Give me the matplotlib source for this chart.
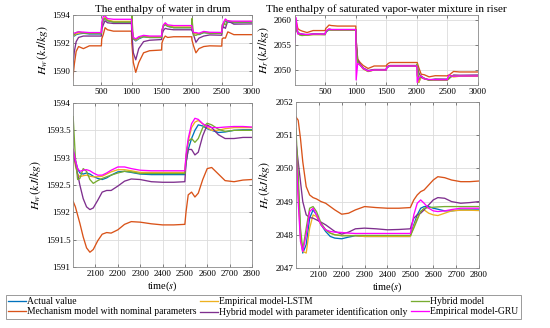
import matplotlib
matplotlib.use("Agg")
import matplotlib.pyplot as plt
import numpy as np

plt.rcParams['font.family'] = ['Liberation Serif', 'DejaVu Serif']
plt.rcParams['mathtext.fontset'] = 'stix'

names = ["Actual value", "Mechanism model with nominal parameters",
         "Empirical model-LSTM", "Hybrid model with parameter identification only",
         "Hybrid model", "Empirical model-GRU"]
colors = ["#0072BD", "#D95319", "#EDB120", "#7E2F8E", "#77AC30", "#FF00FF"]

# full run, 0-3000 s
t_top = [0, 20, 50, 80, 120, 200, 300, 499, 505, 530, 560, 600, 700, 999,
         1005, 1030, 1070, 1120, 1200, 1300, 1499, 1505, 1530, 1560, 1600, 1700, 1999,
         2005, 2030, 2070, 2120, 2200, 2300, 2499, 2505, 2530, 2560, 2600, 2700, 3000]

hw_top = {
    "Actual value": [1593.0, 1592.7, 1592.5, 1592.6, 1592.65, 1592.7, 1592.65, 1592.65, 1593.2, 1593.6, 1593.8, 1593.6, 1593.5, 1593.5,
                     1593.0, 1592.3, 1592.15, 1592.3, 1592.45, 1592.4, 1592.4, 1592.8, 1593.2, 1593.35, 1593.2, 1593.1, 1593.1,
                     1592.95, 1592.7, 1592.7, 1592.6, 1592.75, 1592.7, 1592.7, 1593.0, 1593.3, 1593.6, 1593.5, 1593.45, 1593.5],
    "Mechanism model with nominal parameters": [1592.0, 1589.3, 1590.5, 1591.4, 1591.75, 1591.6, 1591.8, 1591.8, 1592.3, 1592.6, 1593.1, 1592.95, 1592.85, 1592.85,
                     1592.0, 1590.6, 1589.9, 1590.6, 1591.3, 1591.45, 1591.5, 1592.0, 1592.3, 1592.5, 1592.4, 1592.45, 1592.45,
                     1592.2, 1591.8, 1591.3, 1591.6, 1591.75, 1591.8, 1591.78, 1592.3, 1592.37, 1592.35, 1592.8, 1592.6, 1592.6],
    "Empirical model-LSTM": [1593.1, 1592.8, 1592.55, 1592.65, 1592.7, 1592.75, 1592.72, 1592.72, 1593.3, 1593.7, 1593.85, 1593.65, 1593.55, 1593.55,
                     1593.1, 1592.35, 1592.2, 1592.35, 1592.5, 1592.45, 1592.45, 1592.85, 1593.25, 1593.4, 1593.25, 1593.15, 1593.15,
                     1593.0, 1592.65, 1592.68, 1592.65, 1592.78, 1592.73, 1592.73, 1593.1, 1593.4, 1593.68, 1593.55, 1593.52, 1593.55],
    "Hybrid model with parameter identification only": [1593.0, 1590.2, 1591.4, 1592.1, 1592.4, 1592.5, 1592.5, 1592.5, 1593.0, 1593.3, 1593.6, 1593.45, 1593.4, 1593.4,
                     1592.7, 1591.3, 1590.8, 1591.6, 1592.1, 1592.2, 1592.25, 1592.6, 1592.9, 1593.05, 1593.0, 1592.95, 1592.95,
                     1592.9, 1592.6, 1592.05, 1592.35, 1592.5, 1592.58, 1592.56, 1593.0, 1593.15, 1593.05, 1593.6, 1593.35, 1593.37],
    "Hybrid model": [1593.1, 1592.7, 1592.6, 1592.75, 1592.8, 1592.72, 1592.68, 1592.68, 1593.4, 1593.7, 1593.75, 1593.6, 1593.5, 1593.5,
                     1594.0, 1592.3, 1592.25, 1592.4, 1592.45, 1592.4, 1592.4, 1592.9, 1593.25, 1593.3, 1593.2, 1593.1, 1593.1,
                     1593.75, 1592.58, 1592.55, 1592.65, 1592.75, 1592.7, 1592.7, 1593.3, 1593.4, 1593.3, 1593.6, 1593.5, 1593.5],
    "Empirical model-GRU": [1593.1, 1592.8, 1592.7, 1592.75, 1592.8, 1592.78, 1592.75, 1592.75, 1593.4, 1593.9, 1593.95, 1593.75, 1593.7, 1593.7,
                     1593.1, 1592.4, 1592.3, 1592.45, 1592.55, 1592.5, 1592.5, 1592.9, 1593.3, 1593.45, 1593.3, 1593.25, 1593.25,
                     1593.1, 1592.75, 1592.75, 1592.7, 1592.83, 1592.77, 1592.76, 1593.2, 1593.5, 1593.72, 1593.57, 1593.57, 1593.56],
}

hr_top = {
    "Actual value": [2060.0, 2059.0, 2057.6, 2057.3, 2057.2, 2057.0, 2057.2, 2057.1, 2057.5, 2057.8, 2058.0, 2058.0, 2058.0, 2058.0,
                     2055.0, 2051.5, 2051.0, 2050.3, 2049.8, 2050.0, 2050.0, 2050.4, 2050.6, 2050.8, 2050.8, 2050.8, 2050.8,
                     2049.0, 2047.5, 2048.7, 2048.3, 2047.95, 2047.95, 2047.95, 2048.1, 2048.3, 2048.85, 2048.8, 2048.75, 2048.75],
    "Mechanism model with nominal parameters": [2061.0, 2060.0, 2058.3, 2058.0, 2057.8, 2057.5, 2057.9, 2057.9, 2058.3, 2058.6, 2059.0, 2058.9, 2058.8, 2058.8,
                     2056.0, 2052.2, 2051.5, 2050.9, 2050.3, 2050.8, 2050.8, 2051.0, 2051.3, 2051.5, 2051.5, 2051.5, 2051.5,
                     2051.5, 2050.5, 2049.15, 2049.05, 2048.62, 2048.85, 2048.82, 2048.9, 2049.0, 2049.3, 2049.7, 2049.6, 2049.6],
    "Empirical model-LSTM": [2060.0, 2058.8, 2057.5, 2057.2, 2057.1, 2057.0, 2057.1, 2057.1, 2057.6, 2057.9, 2058.1, 2058.0, 2058.0, 2058.0,
                     2055.0, 2051.6, 2051.0, 2050.2, 2049.7, 2050.0, 2050.0, 2050.5, 2050.7, 2050.8, 2050.8, 2050.8, 2050.8,
                     2049.2, 2047.5, 2048.6, 2048.2, 2047.98, 2047.95, 2047.95, 2048.1, 2048.4, 2048.75, 2048.6, 2048.75, 2048.72],
    "Hybrid model with parameter identification only": [2060.5, 2058.2, 2057.3, 2057.2, 2057.1, 2057.1, 2057.2, 2057.2, 2057.6, 2057.9, 2058.2, 2058.1, 2058.1, 2058.1,
                     2056.0, 2052.0, 2051.2, 2050.4, 2049.9, 2050.1, 2050.1, 2050.6, 2050.8, 2050.9, 2050.9, 2050.9, 2050.9,
                     2050.8, 2049.5, 2048.5, 2048.35, 2048.0, 2048.2, 2048.18, 2048.3, 2048.4, 2048.6, 2049.0, 2048.95, 2049.0],
    "Hybrid model": [2060.5, 2058.5, 2057.4, 2057.0, 2056.9, 2057.0, 2057.1, 2057.1, 2057.6, 2058.0, 2058.1, 2058.0, 2058.0, 2058.0,
                     2055.0, 2051.5, 2051.0, 2050.3, 2049.7, 2050.0, 2050.0, 2050.5, 2050.7, 2050.8, 2050.8, 2050.8, 2050.8,
                     2051.2, 2048.0, 2048.8, 2048.3, 2048.0, 2047.98, 2047.98, 2048.1, 2048.3, 2048.8, 2048.85, 2048.85, 2048.85],
    "Empirical model-GRU": [2055.5, 2060.5, 2057.2, 2057.3, 2057.2, 2057.1, 2057.2, 2057.2, 2057.7, 2058.0, 2058.2, 2058.1, 2058.1, 2058.1,
                     2048.0, 2051.3, 2051.0, 2050.3, 2049.8, 2050.0, 2050.0, 2050.5, 2050.7, 2050.8, 2050.8, 2050.8, 2050.8,
                     2047.5, 2048.5, 2048.8, 2048.2, 2048.1, 2048.05, 2048.05, 2048.5, 2049.0, 2048.8, 2048.75, 2048.8, 2048.8],
}

# detail window, 2000-2800 s
t_zoom = [2000, 2010, 2020, 2030, 2045, 2060, 2075, 2090, 2110, 2130, 2150, 2170, 2200, 2230, 2260, 2300,
          2350, 2400, 2450, 2500, 2505, 2515, 2530, 2545, 2560, 2580, 2600, 2620, 2650, 2680, 2720, 2760, 2800]

hw_zoom = {
    "Actual value": [1593.15, 1592.95, 1592.8, 1592.72, 1592.7, 1592.72, 1592.7, 1592.66, 1592.62, 1592.6, 1592.63, 1592.68, 1592.74, 1592.75, 1592.73, 1592.7,
                     1592.69, 1592.69, 1592.69, 1592.69, 1592.9, 1593.15, 1593.35, 1593.5, 1593.6, 1593.58, 1593.53, 1593.5, 1593.46, 1593.47, 1593.5, 1593.51, 1593.51],
    "Mechanism model with nominal parameters": [1592.2, 1592.1, 1591.95, 1591.8, 1591.55, 1591.35, 1591.27, 1591.32, 1591.48, 1591.6, 1591.63, 1591.62, 1591.68, 1591.78, 1591.83, 1591.82,
                     1591.79, 1591.77, 1591.77, 1591.78, 1592.0, 1592.32, 1592.37, 1592.28, 1592.35, 1592.6, 1592.8, 1592.82, 1592.7, 1592.58, 1592.56, 1592.59, 1592.6],
    "Empirical model-LSTM": [1593.1, 1592.85, 1592.7, 1592.65, 1592.67, 1592.68, 1592.66, 1592.65, 1592.65, 1592.66, 1592.7, 1592.74, 1592.78, 1592.78, 1592.76, 1592.73,
                     1592.73, 1592.73, 1592.73, 1592.73, 1593.0, 1593.3, 1593.55, 1593.65, 1593.68, 1593.62, 1593.55, 1593.5, 1593.5, 1593.53, 1593.55, 1593.55, 1593.55],
    "Hybrid model with parameter identification only": [1593.1, 1592.9, 1592.7, 1592.5, 1592.25, 1592.1, 1592.05, 1592.08, 1592.22, 1592.37, 1592.4, 1592.4, 1592.48, 1592.57, 1592.61, 1592.6,
                     1592.56, 1592.55, 1592.55, 1592.56, 1592.9, 1593.15, 1593.15, 1593.05, 1593.1, 1593.4, 1593.6, 1593.55, 1593.42, 1593.35, 1593.35, 1593.37, 1593.37],
    "Hybrid model": [1593.75, 1593.0, 1592.6, 1592.62, 1592.8, 1592.75, 1592.6, 1592.53, 1592.58, 1592.62, 1592.65, 1592.68, 1592.72, 1592.75, 1592.74, 1592.71,
                     1592.71, 1592.71, 1592.71, 1592.71, 1593.0, 1593.3, 1593.35, 1593.28, 1593.35, 1593.55, 1593.63, 1593.6, 1593.52, 1593.48, 1593.5, 1593.5, 1593.5],
    "Empirical model-GRU": [1593.15, 1592.95, 1592.8, 1592.75, 1592.77, 1592.78, 1592.76, 1592.72, 1592.68, 1592.68, 1592.72, 1592.77, 1592.83, 1592.83, 1592.8, 1592.77,
                     1592.76, 1592.76, 1592.76, 1592.76, 1593.05, 1593.35, 1593.62, 1593.72, 1593.7, 1593.62, 1593.57, 1593.55, 1593.55, 1593.56, 1593.57, 1593.57, 1593.56],
}

hr_zoom = {
    "Actual value": [2051.0, 2049.5, 2048.0, 2047.45, 2047.7, 2048.5, 2048.75, 2048.6, 2048.3, 2048.1, 2047.95, 2047.9, 2047.88, 2047.93, 2047.97, 2047.95,
                     2047.95, 2047.95, 2047.95, 2047.95, 2048.1, 2048.3, 2048.6, 2048.8, 2048.85, 2048.85, 2048.8, 2048.77, 2048.72, 2048.72, 2048.75, 2048.75, 2048.75],
    "Mechanism model with nominal parameters": [2051.55, 2051.45, 2050.9, 2050.2, 2049.45, 2049.2, 2049.12, 2049.08, 2049.0, 2048.95, 2048.85, 2048.75, 2048.62, 2048.65, 2048.75, 2048.85,
                     2048.82, 2048.8, 2048.8, 2048.82, 2048.9, 2049.05, 2049.2, 2049.3, 2049.35, 2049.5, 2049.65, 2049.75, 2049.72, 2049.65, 2049.6, 2049.6, 2049.62],
    "Empirical model-LSTM": [2050.9, 2049.3, 2047.9, 2047.5, 2047.45, 2048.2, 2048.6, 2048.55, 2048.3, 2048.15, 2048.05, 2048.0, 2047.98, 2047.98, 2047.97, 2047.95,
                     2047.95, 2047.95, 2047.95, 2047.95, 2048.05, 2048.25, 2048.5, 2048.7, 2048.75, 2048.65, 2048.6, 2048.58, 2048.65, 2048.72, 2048.74, 2048.74, 2048.73],
    "Hybrid model with parameter identification only": [2050.8, 2050.2, 2049.6, 2049.0, 2048.6, 2048.52, 2048.5, 2048.45, 2048.38, 2048.3, 2048.2, 2048.1, 2048.02, 2048.08, 2048.18, 2048.2,
                     2048.18, 2048.15, 2048.16, 2048.18, 2048.3, 2048.5, 2048.6, 2048.65, 2048.75, 2048.9, 2049.05, 2049.12, 2049.1, 2049.0, 2048.95, 2048.97, 2049.0],
    "Hybrid model": [2051.2, 2049.8, 2048.2, 2047.55, 2048.2, 2048.8, 2048.85, 2048.7, 2048.35, 2048.15, 2048.05, 2048.0, 2047.97, 2047.97, 2047.98, 2047.98,
                     2047.98, 2047.98, 2047.98, 2047.98, 2048.05, 2048.2, 2048.45, 2048.7, 2048.8, 2048.82, 2048.83, 2048.84, 2048.85, 2048.85, 2048.85, 2048.85, 2048.85],
    "Empirical model-GRU": [2050.75, 2049.0, 2047.8, 2047.5, 2048.0, 2048.7, 2048.8, 2048.6, 2048.3, 2048.15, 2048.1, 2048.08, 2048.07, 2048.05, 2048.04, 2048.04,
                     2048.04, 2048.04, 2048.04, 2048.04, 2048.2, 2048.6, 2048.95, 2049.05, 2048.95, 2048.8, 2048.72, 2048.7, 2048.72, 2048.76, 2048.8, 2048.8, 2048.8],
}


def style_axes(ax):
    ax.grid(True, color="#dcdcdc", linewidth=0.6)
    ax.set_axisbelow(True)
    ax.tick_params(direction="in", top=True, right=True, labelsize=6.5, length=2.5,
                   width=0.5, color="#555555", pad=2)
    for s in ax.spines.values():
        s.set_color("#8a8a8a")
        s.set_linewidth(0.6)


def draw(ax, t, data):
    for n, c in zip(names, colors):
        ax.plot(t, data[n], color=c, linewidth=0.95, label=n)
    style_axes(ax)


fig = plt.figure(figsize=(5.5, 3.28), dpi=100)
ax1 = fig.add_axes([0.133, 0.741, 0.325, 0.213])
ax2 = fig.add_axes([0.536, 0.741, 0.333, 0.213])
ax3 = fig.add_axes([0.133, 0.186, 0.325, 0.500])
ax4 = fig.add_axes([0.538, 0.183, 0.333, 0.506])

ylab_fs = 8.5

draw(ax1, t_top, hw_top)
ax1.set_xlim(30, 3000)
ax1.set_ylim(1589, 1594)
ax1.set_xticks([500, 1000, 1500, 2000, 2500, 3000])
ax1.set_yticks([1590, 1592, 1594])
ax1.set_title("The enthalpy of water in drum", fontsize=8, pad=2)
ax1.set_ylabel(r"$H_w\,(kJ/kg)$", fontsize=ylab_fs, labelpad=2)

draw(ax2, t_top, hr_top)
ax2.set_xlim(0, 3000)
ax2.set_ylim(2047, 2061)
ax2.set_xticks([500, 1000, 1500, 2000, 2500, 3000])
ax2.set_yticks([2050, 2055, 2060])
ax2.set_title("The enthalpy of saturated vapor-water mixture in riser", fontsize=8, pad=2)
ax2.set_ylabel(r"$H_r\,(kJ/kg)$", fontsize=ylab_fs, labelpad=2)

draw(ax3, t_zoom, hw_zoom)
ax3.set_xlim(2000, 2800)
ax3.set_ylim(1591, 1594)
ax3.set_xticks(np.arange(2100, 2801, 100))
ax3.set_yticks(np.arange(1591, 1594.01, 0.5))
ax3.set_yticklabels(["1591", "1591.5", "1592", "1592.5", "1593", "1593.5", "1594"])
ax3.set_xlabel(r"time($s$)", fontsize=7.5, labelpad=1)
ax3.set_ylabel(r"$H_w\,(kJ/kg)$", fontsize=ylab_fs, labelpad=2)

draw(ax4, t_zoom, hr_zoom)
ax4.set_xlim(2000, 2800)
ax4.set_ylim(2047, 2052)
ax4.set_xticks(np.arange(2100, 2801, 100))
ax4.set_yticks(np.arange(2047, 2053, 1))
ax4.set_xlabel(r"time($s$)", fontsize=7.5, labelpad=1)
ax4.set_ylabel(r"$H_r\,(kJ/kg)$", fontsize=ylab_fs, labelpad=2)

handles, labels = ax3.get_legend_handles_labels()
leg = fig.legend(handles, labels, loc="upper left", ncol=3,
                 bbox_to_anchor=(0.011, 0.101), fontsize=6.9,
                 frameon=True, fancybox=False, edgecolor="#8a8a8a", framealpha=1,
                 handlelength=1.8, handletextpad=0.15, borderpad=0.25,
                 labelspacing=0.1, columnspacing=0.4, borderaxespad=0)
leg.get_frame().set_linewidth(0.6)

plt.savefig("out.png", dpi=100)
